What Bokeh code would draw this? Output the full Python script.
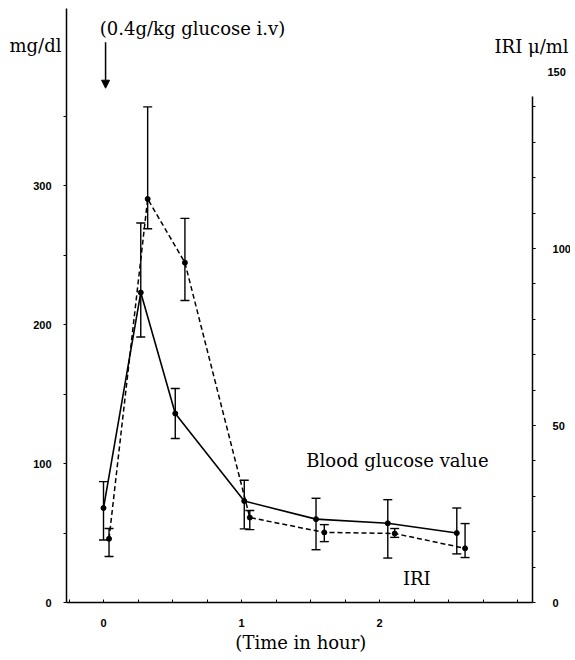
from bokeh.plotting import figure
from bokeh.models import (ColumnDataSource, Range1d, LinearAxis, FixedTicker, Whisker,
                          TeeHead, Label, Arrow, NormalHead, Grid)
from bokeh.embed import file_html
from bokeh.resources import INLINE

# ---- data ----
t_glu = [0.0, 0.27, 0.52, 1.02, 1.54, 2.06, 2.56]          # hours
glu_mean = [68, 223, 136, 73, 60, 57, 50]                 # mg/dl
glu_upper = [87, 273, 154, 88, 75, 74, 68]
glu_lower = [45, 191, 118, 53, 38, 32, 35]

t_iri = [0.04, 0.32, 0.59, 1.06, 1.60, 2.11, 2.62]         # hours
iri_mean = [18.0, 114.0, 96.0, 24.0, 19.8, 19.5, 15.3]    # micro U/ml
iri_upper = [20.9, 140.0, 108.5, 26.0, 22.0, 20.9, 22.3]
iri_lower = [13.0, 105.6, 85.3, 20.6, 17.2, 18.4, 12.7]

x_ticks = [0, 1, 2]
x_minor = [-0.25, 0.25, 0.5, 0.75, 1.25, 1.5, 1.75, 2.25, 2.5, 2.75, 3.0]
left_ticks = [0, 100, 200, 300]
left_minor = [50, 150, 250, 350]
right_ticks = [0, 50, 100]
right_minor = [10, 20, 30, 40, 50, 60, 70, 80, 90, 100, 110, 120, 130, 140]

SERIF = "DejaVu Serif"
NUMF = "Liberation Sans"

# axis extents (data units)
X0, X1 = -0.268, 3.109
YTOP = 427.3
IRI_TOP = 143

glu_src = ColumnDataSource(dict(t=t_glu, y=glu_mean, up=glu_upper, lo=glu_lower))
iri_src = ColumnDataSource(dict(t=t_iri, y=iri_mean, up=iri_upper, lo=iri_lower))

W, H = 570, 655
p = figure(width=W, height=H, output_backend="svg", toolbar_location=None,
           x_range=Range1d(-0.7464, 3.384), y_range=Range1d(-38.1, 433.1),
           x_axis_location=None, y_axis_location=None,
           min_border_left=0, min_border_right=0, min_border_top=0, min_border_bottom=0)
p.outline_line_color = None
p.background_fill_color = "white"
p.border_fill_color = "white"
for g in list(p.center):
    if isinstance(g, Grid):
        g.visible = False
p.extra_y_ranges = {"iri": Range1d(-14.97, 170.06)}

def style_axis(ax):
    ax.axis_line_width = 1.5
    ax.axis_line_color = "black"
    ax.major_tick_line_color = "black"
    ax.minor_tick_line_color = "black"
    ax.major_label_text_font = NUMF
    ax.major_label_text_font_style = "bold"
    ax.major_label_text_font_size = "11px"
    ax.major_label_text_color = "black"

# bottom axis
xa = LinearAxis(ticker=FixedTicker(ticks=x_ticks, minor_ticks=x_minor),
                fixed_location=0, bounds=(X0, X1))
style_axis(xa)
xa.major_tick_in = 3
xa.major_tick_out = 0
xa.minor_tick_in = 3
xa.minor_tick_out = 0
xa.major_label_standoff = 16
p.add_layout(xa, "below")

# left axis
ya = LinearAxis(ticker=FixedTicker(ticks=left_ticks, minor_ticks=left_minor),
                fixed_location=X0, bounds=(0, YTOP))
style_axis(ya)
ya.major_tick_in = 0
ya.major_tick_out = 3
ya.minor_tick_in = 0
ya.minor_tick_out = 3
ya.major_label_standoff = 12
p.add_layout(ya, "left")

# right axis
ra = LinearAxis(y_range_name="iri", ticker=FixedTicker(ticks=right_ticks, minor_ticks=right_minor),
                fixed_location=X1, bounds=(0, IRI_TOP))
style_axis(ra)
ra.major_tick_in = 0
ra.major_tick_out = 3
ra.minor_tick_in = 0
ra.minor_tick_out = 3
ra.major_label_standoff = 17
p.add_layout(ra, "right")

# blood glucose (solid)
p.line("t", "y", source=glu_src, line_color="black", line_width=1.6)
p.scatter("t", "y", source=glu_src, size=5, color="black")
p.add_layout(Whisker(source=glu_src, base="t", upper="up", lower="lo", dimension="height",
                     line_color="black", line_width=1.4,
                     upper_head=TeeHead(size=9, line_color="black", line_width=1.4),
                     lower_head=TeeHead(size=9, line_color="black", line_width=1.4)))

# IRI (dashed)
p.line("t", "y", source=iri_src, y_range_name="iri", line_color="black", line_width=1.5,
       line_dash="5 3")
p.scatter("t", "y", source=iri_src, y_range_name="iri", size=5, color="black")
p.add_layout(Whisker(source=iri_src, base="t", upper="up", lower="lo", dimension="height",
                     y_range_name="iri", line_color="black", line_width=1.4,
                     upper_head=TeeHead(size=9, line_color="black", line_width=1.4),
                     lower_head=TeeHead(size=9, line_color="black", line_width=1.4)))

# text annotations (data units)
def label(text, x, y, align="center", size="18px", font=SERIF, style="normal", yr=None):
    kw = dict(x=x, y=y, text=text, text_align=align, text_baseline="middle",
              text_font=font, text_font_size=size, text_font_style=style, text_color="black")
    if yr:
        kw["y_range_name"] = yr
    p.add_layout(Label(**kw))

label("mg/dl", -0.493, 400.5)
label("IRI \u03bc/ml", 3.37, 400, align="right")
label("150", 3.217, 150, align="left", size="11px", font=NUMF, style="bold", yr="iri")
label("(0.4g/kg glucose i.v)", 0.645, 413)
label("Blood glucose value", 2.13, 102)
label("IRI", 2.27, 17)
label("(Time in hour)", 1.43, -28.8)

p.add_layout(Arrow(x_start=0.015, y_start=403, x_end=0.015, y_end=370, line_width=1.5,
                   line_color="black",
                   end=NormalHead(size=8, fill_color="black", line_color="black")))

open("out.html", "w").write(file_html(p, INLINE))
